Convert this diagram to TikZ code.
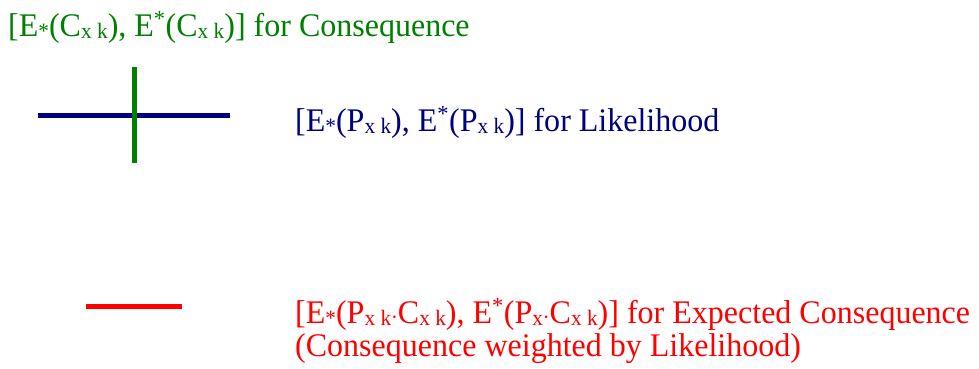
\documentclass[tikz,border=0pt]{standalone}
\usepackage{fontspec}
\setmainfont{Liberation Serif}
\definecolor{lkblue}{RGB}{0,0,128}
\definecolor{csgreen}{RGB}{0,128,0}
\definecolor{exred}{RGB}{255,0,0}
\newcommand{\lo}[1]{\raisebox{-0.08em}{\fontsize{22}{22}\selectfont #1}}
\newcommand{\hi}[1]{\textsuperscript{#1}}
\newcommand{\sq}[1]{\scalebox{0.97}[1]{#1}}
\begin{document}
\begin{tikzpicture}[x=1pt, y=-1pt,
  lbl/.style={anchor=base west, inner sep=0pt, font=\fontsize{33}{33}\selectfont},
  bar/.style={line width=5pt}]
  \useasboundingbox (0,0) rectangle (979,368);
  % === Consequence / Likelihood cross ===
  \draw[bar, lkblue] (38,115) -- (230,115);
  \draw[bar, csgreen] (134,67) -- (134,163);
  \node[lbl, csgreen] (conseq) at (8,36)
    {\sq{[E\lo{*}(C\lo{x k}), E\hi{*}(C\lo{x k})] for Consequence}};
  \node[lbl, lkblue] (likely) at (295,131)
    {\sq{[E\lo{*}(P\lo{x k}), E\hi{*}(P\lo{x k})] for Likelihood}};
  % === Expected consequence ===
  \draw[bar, exred] (86,306) -- (182,306);
  \node[lbl, exred] (expect) at (295,323)
    {\sq{[E\lo{*}(P\lo{x k}$\cdot$C\lo{x k}), E\hi{*}(P\lo{x}$\cdot$C\lo{x k})] for Expected Consequence}};
  \node[lbl, exred] (weight) at (295,356) {\sq{(Consequence weighted by Likelihood)}};
\end{tikzpicture}
\end{document}
